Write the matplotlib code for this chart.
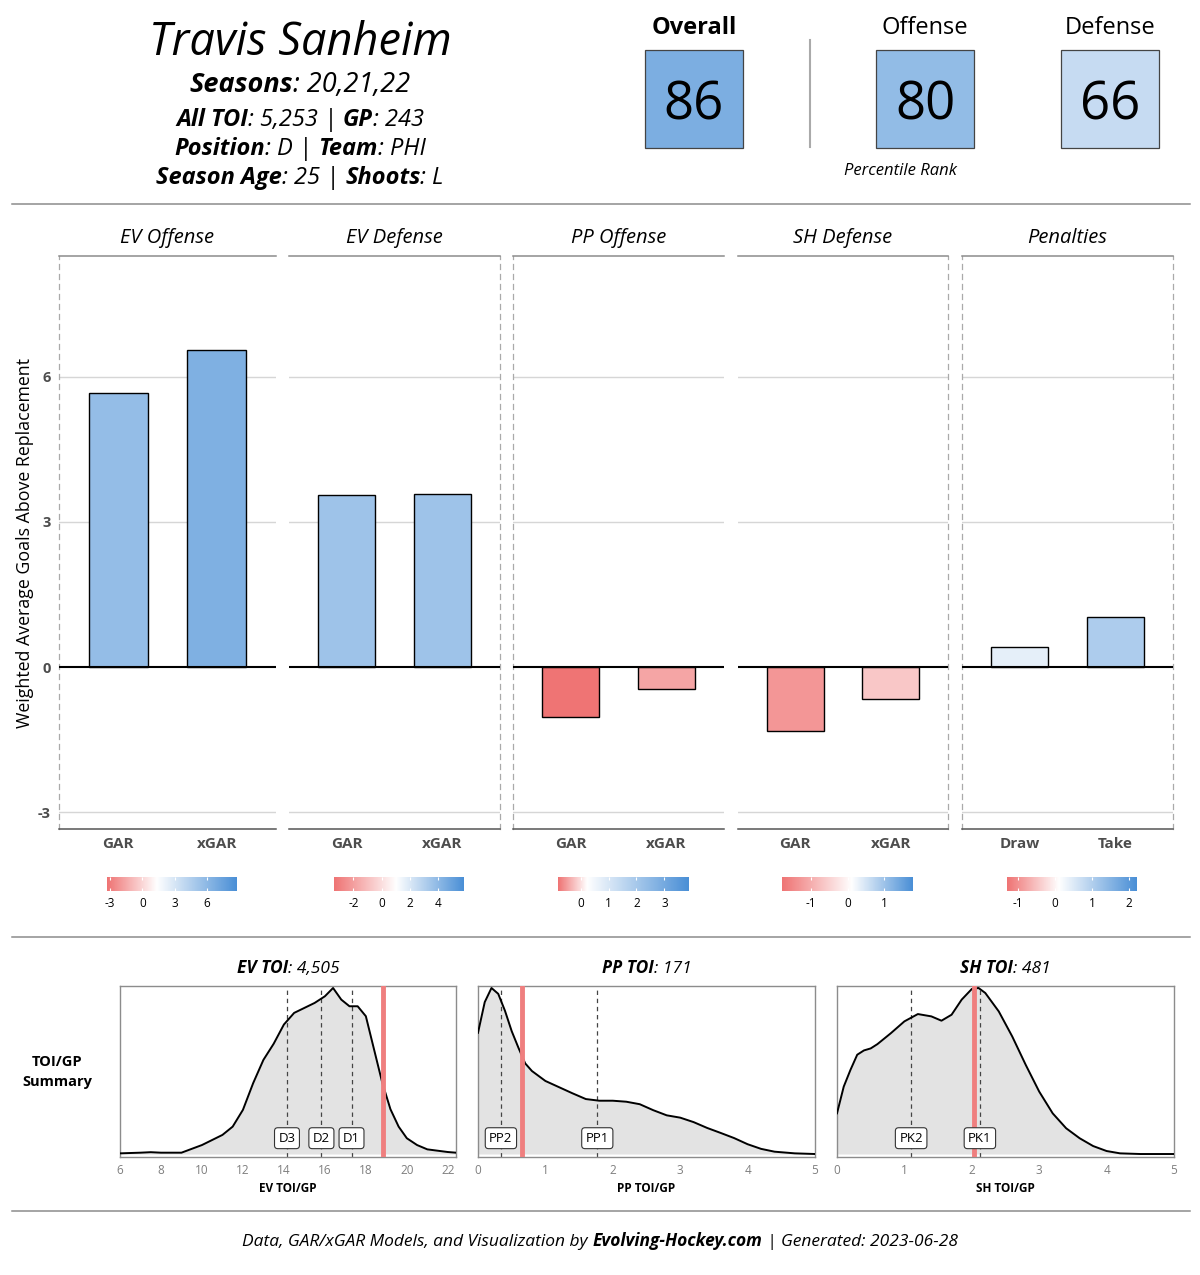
import matplotlib
matplotlib.use('Agg')
import matplotlib.pyplot as plt
import numpy as np
from matplotlib.colors import LinearSegmentedColormap, TwoSlopeNorm
from matplotlib.lines import Line2D
from matplotlib.patches import Rectangle
import matplotlib.transforms as mtrans

plt.rcParams['font.family'] = ['Open Sans', 'DejaVu Sans']

# ---------------- data ----------------
player = "Travis Sanheim"
seasons = "20,21,22"
all_toi = "5,253"
games = "243"
position = "D"
team = "PHI"
season_age = "25"
shoots = "L"

rank_labels = ["Overall", "Offense", "Defense"]
rank_values = [86, 80, 66]

panel_titles = ["EV Offense", "EV Defense", "PP Offense", "SH Defense", "Penalties"]
bar_categories = [["GAR", "xGAR"], ["GAR", "xGAR"], ["GAR", "xGAR"], ["GAR", "xGAR"], ["Draw", "Take"]]
bar_values = [[5.67, 6.56], [3.56, 3.58], [-1.04, -0.46], [-1.33, -0.66], [0.41, 1.04]]
y_ticks = [-3, 0, 3, 6]

cb_min = [-3.3, -3.4, -0.83, -1.8, -1.3]
cb_mid = [1.3, 1.0, 0.2, 0.1, 0.1]
cb_max = [8.7, 5.8, 3.83, 1.77, 2.2]
cb_ticks = [[-3, 0, 3, 6], [-2, 0, 2, 4], [0, 1, 2, 3], [-1, 0, 1], [-1, 0, 1, 2]]

ev_toi_total = "4,505"
pp_toi_total = "171"
sh_toi_total = "481"

ev_x = [6, 7, 7.5, 8, 9, 10, 11, 11.5, 12, 12.5, 13, 13.5, 14, 14.5, 15, 15.5, 16, 16.4,
        16.8, 17.2, 17.6, 18, 18.4, 18.8, 19.2, 19.6, 20, 20.5, 21, 22, 22.4]
ev_y = [0.004, 0.008, 0.011, 0.008, 0.008, 0.054, 0.115, 0.165, 0.266, 0.427, 0.567, 0.664,
        0.78, 0.85, 0.88, 0.91, 0.95, 1.0, 0.93, 0.89, 0.89, 0.83, 0.63, 0.43, 0.27, 0.165,
        0.095, 0.054, 0.028, 0.012, 0.008]
pp_x = [0, 0.1, 0.2, 0.3, 0.4, 0.5, 0.6, 0.7, 0.8, 1.0, 1.2, 1.4, 1.6, 1.8, 2.0, 2.2, 2.4,
        2.6, 2.8, 3.0, 3.2, 3.4, 3.6, 3.8, 4.0, 4.2, 4.4, 4.7, 5.0]
pp_y = [0.73, 0.915, 1.0, 0.965, 0.863, 0.74, 0.64, 0.546, 0.50, 0.44, 0.403, 0.366, 0.331,
        0.321, 0.321, 0.315, 0.30, 0.264, 0.233, 0.219, 0.192, 0.157, 0.127, 0.096, 0.059,
        0.031, 0.014, 0.004, 0.0]
sh_x = [0, 0.1, 0.2, 0.3, 0.4, 0.5, 0.6, 0.8, 1.0, 1.2, 1.4, 1.55, 1.7, 1.85, 2.0, 2.1, 2.2,
        2.4, 2.6, 2.8, 3.0, 3.2, 3.4, 3.6, 3.8, 4.0, 4.2, 4.5, 5.0]
sh_y = [0.245, 0.406, 0.507, 0.598, 0.624, 0.636, 0.662, 0.728, 0.799, 0.843, 0.829, 0.803,
        0.839, 0.93, 0.994, 1.0, 0.97, 0.859, 0.708, 0.537, 0.376, 0.245, 0.155, 0.095,
        0.048, 0.018, 0.004, 0.0, 0.0]

dens_titles = [("EV TOI", ev_toi_total), ("PP TOI", pp_toi_total), ("SH TOI", sh_toi_total)]
dens_xlabels = ["EV TOI/GP", "PP TOI/GP", "SH TOI/GP"]
dens_xlims = [(6, 22.4), (0, 5), (0, 5)]
dens_xticks = [[6, 8, 10, 12, 14, 16, 18, 20, 22], [0, 1, 2, 3, 4, 5], [0, 1, 2, 3, 4, 5]]
dens_player = [18.85, 0.65, 2.03]
dens_ref_labels = [["D3", "D2", "D1"], ["PP2", "PP1"], ["PK2", "PK1"]]
dens_ref_values = [[14.15, 15.83, 17.3], [0.34, 1.77], [1.1, 2.12]]

# ---------------- figure ----------------
W, H = 1200, 1275
fig = plt.figure(figsize=(W / 100, H / 100), dpi=100)
fig.patch.set_facecolor('white')

def fx(x):
    return x / W

def fy(y):
    return 1 - y / H

def ax_rect(x0, x1, y0, y1):
    return [fx(x0), fy(y1), (x1 - x0) / W, (y1 - y0) / H]

RED = "#EF7474"
BLUE = "#4A8FD6"
cmap = LinearSegmentedColormap.from_list("rwb", [RED, "white", BLUE])

renderer = fig.canvas.get_renderer()

def rich(xc, ybase, parts, size, color='black'):
    sp = fig.text(0, 0, "x x", fontsize=size, fontstyle='italic')
    sp2 = fig.text(0, 0, "xx", fontsize=size, fontstyle='italic')
    space = sp.get_window_extent(renderer).width - sp2.get_window_extent(renderer).width
    sp.remove(); sp2.remove()
    items = []
    for s, bold in parts:
        lead = space if s.startswith(' ') else 0
        trail = space if s.endswith(' ') else 0
        t = fig.text(0, fy(ybase), s.strip(), fontsize=size, fontstyle='italic',
                     fontweight='bold' if bold else 'normal', ha='left', va='baseline', color=color)
        w = t.get_window_extent(renderer).width
        items.append((t, lead, w, trail))
    total = sum(l + w + tr for _, l, w, tr in items)
    x = xc - total / 2
    for t, l, w, tr in items:
        x += l
        t.set_x(fx(x))
        x += w + tr

# ---------- header ----------
rich(300, 55, [(player, False)], 32.5)
rich(300, 92, [("Seasons", True), (": " + seasons, False)], 19.5)
rich(300, 126, [("All TOI", True), (": " + all_toi + " | ", False), ("GP", True), (": " + games, False)], 17)
rich(300, 155, [("Position", True), (": " + position + " | ", False), ("Team", True), (": " + team, False)], 17)
rich(300, 184, [("Season Age", True), (": " + season_age + " | ", False), ("Shoots", True), (": " + shoots, False)], 17)

box_centers = [694, 925, 1110]
rank_norm = TwoSlopeNorm(vcenter=50, vmin=0, vmax=100)
for i, (lab, val) in enumerate(zip(rank_labels, rank_values)):
    xc = box_centers[i]
    fig.text(fx(xc), fy(28), lab, fontsize=17, ha='center', va='center',
             fontweight='bold' if i == 0 else 'normal')
    fig.add_artist(Rectangle((fx(xc - 49), fy(148)), 98 / W, 98 / H, transform=fig.transFigure,
                             facecolor=cmap(rank_norm(val)), edgecolor='#444444', lw=0.9))
    fig.text(fx(xc), fy(120), str(val), fontsize=38, ha='center', va='baseline')
fig.add_artist(Line2D([fx(810), fx(810)], [fy(40), fy(147)], color='#AAAAAA', lw=1.5))
fig.text(fx(900), fy(171), "Percentile Rank", fontsize=12, fontstyle='italic', ha='center', va='center')

for yy in [204, 937, 1211]:
    fig.add_artist(Line2D([fx(12), fx(1190)], [fy(yy), fy(yy)], color='#8C8C8C', lw=1.1))

# ---------- bar panels ----------
panel_x = [(59, 276), (289, 500), (513, 724), (738, 948), (962, 1173)]
left_dash = [True, False, True, False, True]
right_dash = [False, True, False, True, True]
for i in range(5):
    x0, x1 = panel_x[i]
    ax = fig.add_axes(ax_rect(x0, x1, 256, 829))
    ax.set_xlim(0.4, 2.6)
    ax.set_ylim(-3.35, 8.5)
    norm = TwoSlopeNorm(vcenter=cb_mid[i], vmin=cb_min[i], vmax=cb_max[i])
    vals = bar_values[i]
    cols = [cmap(np.clip(norm(v), 0, 1)) for v in vals]
    for yt in [-3, 3, 6]:
        ax.axhline(yt, color='#D6D6D6', lw=1, zorder=0)
    ax.bar([1, 2], vals, width=0.6, color=cols, edgecolor='black', lw=1, zorder=2)
    ax.axhline(0, color='black', lw=1.5, zorder=3)
    ax.set_xticks([1, 2])
    ax.set_xticklabels(bar_categories[i], fontsize=11, fontweight='bold', color='#4D4D4D')
    ax.tick_params(axis='x', length=0, pad=6)
    ax.set_yticks(y_ticks)
    if i == 0:
        ax.set_yticklabels([str(t) for t in y_ticks], fontsize=10.5, fontweight='bold', color='#4D4D4D')
        ax.tick_params(axis='y', length=0, pad=6)
        ax.set_ylabel("Weighted Average Goals Above Replacement", fontsize=12.8, labelpad=3)
    else:
        ax.set_yticklabels([])
        ax.tick_params(axis='y', length=0)
    ax.spines['top'].set_color('#8C8C8C')
    ax.spines['top'].set_linewidth(1.1)
    ax.spines['bottom'].set_color('#555555')
    ax.spines['bottom'].set_linewidth(1.1)
    for side, flag in [('left', left_dash[i]), ('right', right_dash[i])]:
        if flag:
            ax.spines[side].set_color('#AAAAAA')
            ax.spines[side].set_linestyle((0, (4, 4)))
            ax.spines[side].set_linewidth(0.9)
        else:
            ax.spines[side].set_visible(False)
    fig.text(fx((x0 + x1) / 2), fy(238), panel_titles[i], fontsize=14.5, fontstyle='italic',
             ha='center', va='center')

    # colorbar legend
    cxc = (x0 + x1) / 2 + 4
    cax = fig.add_axes(ax_rect(cxc - 65, cxc + 65, 877, 891))
    grad = np.linspace(cb_min[i], cb_max[i], 300)[None, :]
    cax.imshow(grad, cmap=cmap, norm=norm, aspect='auto',
               extent=[cb_min[i], cb_max[i], 0, 1])
    cax.set_xlim(cb_min[i], cb_max[i])
    cax.set_ylim(0, 1)
    cax.vlines(cb_ticks[i], 0, 0.22, color='white', lw=0.8)
    cax.vlines(cb_ticks[i], 0.78, 1, color='white', lw=0.8)
    cax.set_xticks(cb_ticks[i])
    cax.set_xticklabels([str(t) for t in cb_ticks[i]], fontsize=8.5)
    cax.tick_params(axis='x', length=0, pad=4)
    cax.set_yticks([])
    for s in cax.spines.values():
        s.set_visible(False)

# ---------- density panels ----------
dens_px = [(120, 456), (478, 815), (837, 1174)]
dens_xs = [ev_x, pp_x, sh_x]
dens_ys = [ev_y, pp_y, sh_y]
for i in range(3):
    x0, x1 = dens_px[i]
    ax = fig.add_axes(ax_rect(x0, x1, 986, 1157))
    ax.set_xlim(*dens_xlims[i])
    ax.set_ylim(-0.018, 1.012)
    ax.fill_between(dens_xs[i], 0, dens_ys[i], color='#E3E3E3', lw=0, zorder=1)
    ax.plot(dens_xs[i], dens_ys[i], color='black', lw=1.4, zorder=3, solid_joinstyle='round')
    for v in dens_ref_values[i]:
        ax.axvline(v, color='#444444', lw=0.9, ls=(0, (3.5, 3)), zorder=2)
    ax.axvline(dens_player[i], color='#EF7F7F', lw=3.5, zorder=4)
    trans = mtrans.blended_transform_factory(ax.transData, ax.transAxes)
    for lab, v in zip(dens_ref_labels[i], dens_ref_values[i]):
        ax.text(v, 0.11, lab, transform=trans, fontsize=9.5, ha='center', va='center', zorder=5,
                bbox=dict(boxstyle='round,pad=0.3,rounding_size=0.25', fc='white', ec='#333333', lw=0.8))
    ax.set_xticks(dens_xticks[i])
    ax.set_xticklabels([str(t) for t in dens_xticks[i]], fontsize=8.5, color='#7F7F7F')
    ax.tick_params(axis='x', length=0, pad=5)
    ax.set_yticks([])
    ax.set_xlabel(dens_xlabels[i], fontsize=8.5, fontweight='bold', labelpad=4)
    for s in ax.spines.values():
        s.set_color('#8C8C8C')
        s.set_linewidth(1)
    rich((x0 + x1) / 2, 973, [(dens_titles[i][0], True), (": " + dens_titles[i][1], False)], 12.5)

fig.text(fx(57), fy(1072), "TOI/GP\nSummary", fontsize=10.5, fontweight='bold', ha='center',
         va='center', linespacing=1.6)

# ---------- footer ----------
rich(600, 1246, [("Data, GAR/xGAR Models, and Visualization by ", False), ("Evolving-Hockey.com", True),
                 (" | Generated: 2023-06-28", False)], 12.5)

fig.savefig("out.png", dpi=100, facecolor='white')
